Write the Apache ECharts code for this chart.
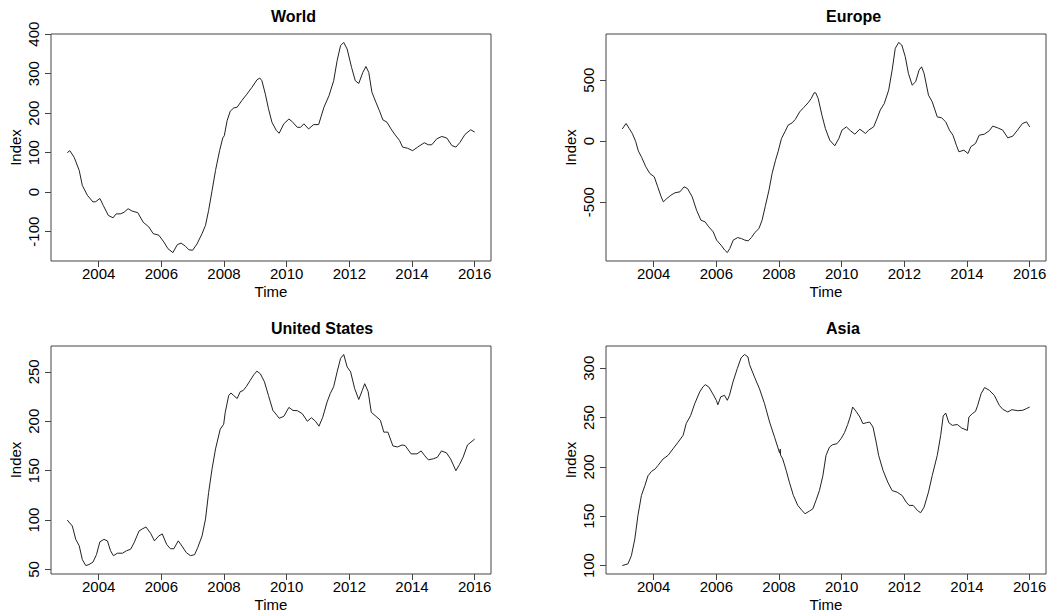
<!DOCTYPE html>
<html>
<head>
<meta charset="utf-8">
<script src="https://cdn.jsdelivr.net/npm/echarts@6/dist/echarts.min.js"></script>
<style>
html,body{margin:0;padding:0;background:#fff;}
#c{width:1054px;height:615px;}
</style>
</head>
<body>
<div id="c"></div>
<script>
// ---- data: [time (year), index value] ----
const world = [
[2003.00,100],[2003.08,105],[2003.22,88],[2003.38,55],[2003.48,17],[2003.64,-8],[2003.82,-25],[2003.91,-24],
[2004.04,-16],[2004.15,-34],[2004.31,-59],[2004.46,-65],[2004.56,-55],[2004.70,-55],[2004.81,-51],[2004.94,-42],
[2005.07,-48],[2005.25,-52],[2005.42,-76],[2005.60,-88],[2005.74,-105],[2005.92,-109],[2006.08,-126],[2006.21,-143],
[2006.37,-153],[2006.51,-133],[2006.63,-129],[2006.77,-137],[2006.88,-146],[2007.00,-147],[2007.14,-131],[2007.30,-105],
[2007.41,-84],[2007.51,-46],[2007.62,4],[2007.73,55],[2007.86,105],[2007.96,137],[2008.01,143],[2008.10,181],
[2008.20,205],[2008.31,213],[2008.42,215],[2008.57,232],[2008.73,248],[2008.89,265],[2009.05,284],[2009.14,289],
[2009.21,282],[2009.32,248],[2009.42,211],[2009.53,177],[2009.67,156],[2009.76,149],[2009.91,173],[2010.07,185],
[2010.17,179],[2010.34,164],[2010.44,164],[2010.55,173],[2010.70,160],[2010.86,171],[2011.02,171],[2011.19,215],
[2011.35,244],[2011.50,282],[2011.61,333],[2011.72,371],[2011.82,379],[2011.93,362],[2012.07,316],[2012.19,282],
[2012.30,275],[2012.43,303],[2012.53,318],[2012.62,303],[2012.72,253],[2012.85,227],[2012.96,206],[2013.07,183],
[2013.20,177],[2013.33,160],[2013.46,145],[2013.60,131],[2013.70,114],[2013.86,111],[2014.02,105],[2014.18,114],
[2014.39,125],[2014.52,120],[2014.63,120],[2014.79,135],[2014.95,141],[2015.11,137],[2015.27,118],[2015.40,114],
[2015.53,126],[2015.69,146],[2015.87,158],[2016.00,152]
];
const europe = [
[2003.00,100],[2003.12,145],[2003.22,104],[2003.32,63],[2003.43,-5],[2003.51,-79],[2003.62,-134],[2003.75,-210],
[2003.88,-265],[2004.02,-292],[2004.13,-374],[2004.24,-456],[2004.31,-497],[2004.42,-470],[2004.55,-443],[2004.68,-423],
[2004.84,-415],[2004.97,-374],[2005.08,-388],[2005.23,-456],[2005.37,-566],[2005.51,-648],[2005.64,-661],[2005.76,-702],
[2005.90,-743],[2006.01,-811],[2006.15,-852],[2006.27,-893],[2006.35,-913],[2006.43,-880],[2006.54,-811],[2006.68,-790],
[2006.80,-798],[2006.91,-811],[2007.02,-817],[2007.12,-790],[2007.23,-749],[2007.36,-716],[2007.46,-648],[2007.57,-525],
[2007.68,-402],[2007.78,-265],[2007.89,-156],[2007.97,-87],[2008.08,22],[2008.19,77],[2008.29,131],[2008.42,150],
[2008.52,178],[2008.66,240],[2008.79,276],[2008.93,314],[2009.03,350],[2009.12,396],[2009.17,396],[2009.25,350],
[2009.37,213],[2009.48,104],[2009.62,8],[2009.78,-38],[2009.91,22],[2010.01,90],[2010.15,117],[2010.28,85],
[2010.42,57],[2010.58,98],[2010.76,63],[2010.86,90],[2011.02,117],[2011.13,186],[2011.23,254],[2011.36,309],
[2011.50,418],[2011.61,582],[2011.71,760],[2011.82,809],[2011.92,787],[2012.03,691],[2012.13,555],[2012.25,459],
[2012.36,486],[2012.47,582],[2012.55,609],[2012.63,555],[2012.77,377],[2012.89,322],[2013.05,199],[2013.19,191],
[2013.32,158],[2013.44,90],[2013.55,49],[2013.66,-33],[2013.74,-87],[2013.90,-74],[2014.03,-101],[2014.12,-46],
[2014.27,-19],[2014.39,49],[2014.55,57],[2014.71,85],[2014.82,123],[2014.98,109],[2015.14,90],[2015.30,27],
[2015.46,41],[2015.61,90],[2015.77,145],[2015.90,158],[2016.00,117]
];
const unitedStates = [
[2003.00,100],[2003.16,94],[2003.27,80.5],[2003.38,74],[2003.48,60],[2003.59,54],[2003.69,55],[2003.82,57.5],
[2003.93,65],[2004.04,78],[2004.17,80.5],[2004.28,79],[2004.38,69],[2004.47,64],[2004.60,66.5],[2004.76,66.5],
[2004.89,69],[2005.02,70.5],[2005.13,77],[2005.29,89],[2005.39,91],[2005.51,93],[2005.66,86.6],[2005.78,79],
[2005.92,84],[2006.03,86],[2006.17,75.4],[2006.29,71],[2006.40,71],[2006.54,79],[2006.66,73.7],[2006.80,67],
[2006.93,64],[2007.06,65],[2007.16,72],[2007.30,84],[2007.41,101],[2007.51,128],[2007.62,152],[2007.73,172],
[2007.88,192],[2007.99,197],[2008.04,209],[2008.15,226],[2008.22,228.6],[2008.31,226],[2008.42,223],[2008.52,230],
[2008.61,231],[2008.71,235],[2008.84,241.5],[2008.95,247],[2009.05,250.7],[2009.16,248],[2009.29,240],[2009.42,226],
[2009.56,211],[2009.69,206],[2009.76,203],[2009.91,205],[2010.07,214],[2010.20,211],[2010.34,210.7],[2010.50,207.6],
[2010.66,200],[2010.79,203.6],[2010.92,200],[2011.03,195],[2011.15,204],[2011.29,219.5],[2011.39,228],[2011.50,235],
[2011.61,250],[2011.72,263.6],[2011.82,267.6],[2011.93,255],[2012.04,250],[2012.17,233],[2012.30,222],[2012.41,231],
[2012.49,238],[2012.60,230],[2012.70,209],[2012.85,205],[2012.99,201],[2013.10,189],[2013.23,189],[2013.39,175],
[2013.54,174],[2013.68,176],[2013.78,175.4],[2013.97,167],[2014.16,167],[2014.29,170],[2014.41,165],[2014.52,161],
[2014.68,162],[2014.81,163.6],[2014.94,170],[2015.10,168],[2015.23,162],[2015.40,150],[2015.51,156],[2015.63,163.6],
[2015.77,176],[2016.00,182]
];
const asia = [
[2003.00,100],[2003.18,101.7],[2003.29,110],[2003.40,127],[2003.50,151],[2003.61,171],[2003.72,181],[2003.82,191],
[2003.93,195.4],[2004.05,198],[2004.14,201.5],[2004.30,208],[2004.46,211.7],[2004.62,218.4],[2004.78,225],[2004.94,232],
[2005.04,244],[2005.18,252],[2005.31,264],[2005.47,276],[2005.57,281],[2005.65,283.4],[2005.76,281],[2005.89,274],
[2006.00,267.5],[2006.05,263],[2006.14,271],[2006.26,272.6],[2006.35,267.5],[2006.42,272.6],[2006.53,286],[2006.67,299.7],
[2006.79,310.5],[2006.90,314],[2007.01,311.5],[2007.06,303.7],[2007.22,291],[2007.38,279],[2007.54,264],[2007.70,245.5],
[2007.86,230],[2007.96,220],[2008.02,214],[2008.04,218],[2008.05,212],[2008.12,208],[2008.23,196.4],[2008.33,184.6],
[2008.46,171],[2008.60,161],[2008.73,156],[2008.83,152.5],[2008.97,155.2],[2009.08,157.5],[2009.18,166],[2009.29,176],
[2009.40,191],[2009.50,211.7],[2009.61,220],[2009.71,222.5],[2009.85,223.5],[2009.98,228.6],[2010.09,234.7],[2010.19,242.8],
[2010.28,251.6],[2010.35,260.7],[2010.46,256.3],[2010.58,250.6],[2010.68,243.8],[2010.79,244.8],[2010.89,245.5],[2011.00,240.4],
[2011.10,225.2],[2011.18,211.7],[2011.32,196.4],[2011.47,184.6],[2011.61,176],[2011.77,174.4],[2011.93,171],[2012.06,164.3],
[2012.15,161],[2012.28,161],[2012.42,155.8],[2012.52,153.5],[2012.63,159.2],[2012.77,174.4],[2012.89,191.3],[2013.05,211.7],
[2013.16,232],[2013.24,251.6],[2013.32,254.6],[2013.42,244.8],[2013.53,242.1],[2013.69,243],[2013.83,239.4],[2014.01,237],
[2014.06,250.6],[2014.17,254],[2014.27,256.3],[2014.34,262.4],[2014.45,274.3],[2014.56,280.4],[2014.71,277.7],[2014.87,272.6],
[2015.03,262.4],[2015.14,258.4],[2015.30,255.7],[2015.43,258],[2015.62,257],[2015.78,257.4],[2015.89,259],[2016.00,260.7]
];

// ---- tick labels ----
const xTicks = [2004, 2006, 2008, 2010, 2012, 2014, 2016];
const worldTicks = [-100, 0, 100, 200, 300, 400];
const europeTicks = [-500, 0, 500];
const usTicks = [50, 100, 150, 200, 250];
const asiaTicks = [100, 150, 200, 250, 300];

const panelTitles = ['World', 'Europe', 'United States', 'Asia'];
const xName = 'Time';
const yName = 'Index';

// ---- layout / styles ----
const FONT = 'Liberation Sans, Arial, Helvetica, sans-serif';
const panels = [
  {data: world, ticks: worldTicks, ymin: -174.3, ymax: 400.3, left: 51, top: 34, h: 227},
  {data: europe, ticks: europeTicks, ymin: -981.9, ymax: 877.9, left: 606, top: 34, h: 227},
  {data: unitedStates, ticks: usTicks, ymin: 45.46, ymax: 276.14, left: 51, top: 346, h: 228},
  {data: asia, ticks: asiaTicks, ymin: 91.44, ymax: 322.56, left: 606, top: 346, h: 228}
];
const W = 440;

const grids = [], xAxes = [], yAxes = [], series = [], graphics = [];
panels.forEach((p, i) => {
  grids.push({left: p.left, top: p.top, width: W, height: p.h, show: true,
    borderColor: '#444', borderWidth: 1, backgroundColor: 'transparent', containLabel: false});
  xAxes.push({
    type: 'value', gridIndex: i, min: 2002.48, max: 2016.52, position: 'bottom',
    axisLine: {show: false, onZero: false},
    axisTick: {show: true, customValues: xTicks, length: 6, inside: false, lineStyle: {color: '#444', width: 1}},
    axisLabel: {show: true, customValues: xTicks, margin: 5, color: '#000', fontSize: 15, fontFamily: FONT,
      formatter: v => String(v)},
    splitLine: {show: false},
    name: xName, nameLocation: 'middle', nameGap: 23,
    nameTextStyle: {color: '#000', fontSize: 15, fontFamily: FONT}
  });
  yAxes.push({
    type: 'value', gridIndex: i, min: p.ymin, max: p.ymax, position: 'left',
    axisLine: {show: false, onZero: false},
    axisTick: {show: true, customValues: p.ticks, length: 6, inside: false, lineStyle: {color: '#444', width: 1}},
    axisLabel: {show: true, customValues: p.ticks, rotate: 90, margin: 10, color: '#000', fontSize: 15, fontFamily: FONT,
      formatter: v => String(v)},
    splitLine: {show: false},
    name: yName, nameLocation: 'middle', nameGap: 28,
    nameTextStyle: {color: '#000', fontSize: 15, fontFamily: FONT}
  });
  series.push({
    type: 'line', xAxisIndex: i, yAxisIndex: i, data: p.data,
    showSymbol: false, symbol: 'none', smooth: false, animation: false,
    lineStyle: {color: '#222', width: 1}
  });
  graphics.push({
    type: 'text', left: p.left + W / 2, top: p.top - 26,
    style: {text: panelTitles[i], fontSize: 16, fontWeight: 'bold', fontFamily: FONT, fill: '#000',
      textAlign: 'center', textVerticalAlign: 'top'}
  });
});

const chart = echarts.init(document.getElementById('c'), null, {renderer: 'svg'});
chart.setOption({
  animation: false,
  backgroundColor: '#fff',
  grid: grids, xAxis: xAxes, yAxis: yAxes, series: series,
  graphic: graphics
});
</script>
</body>
</html>
